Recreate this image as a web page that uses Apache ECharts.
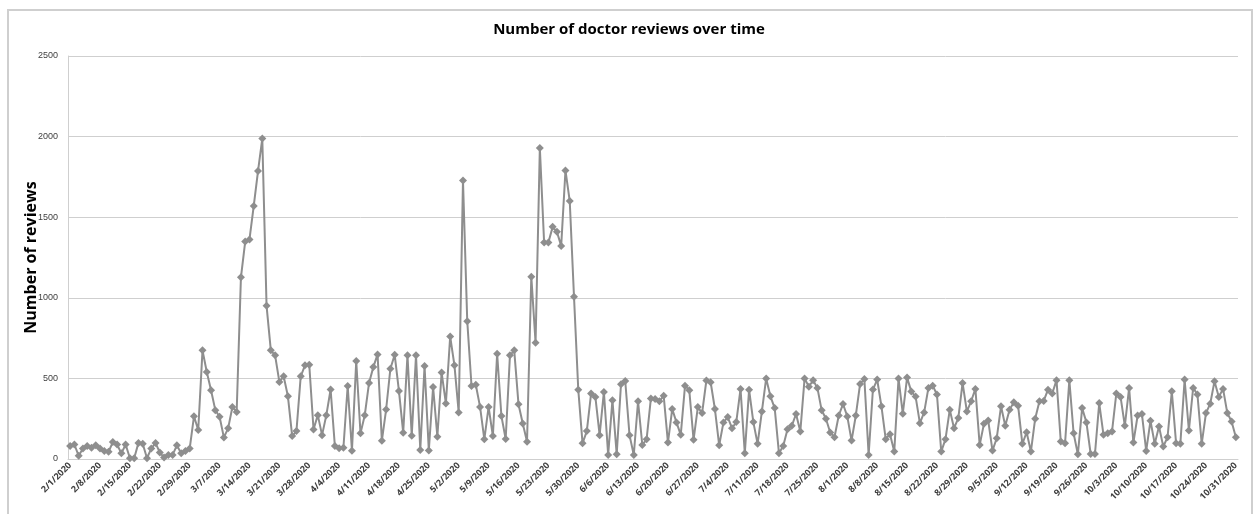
<!DOCTYPE html>
<html>
<head>
<meta charset="utf-8">
<script src="https://cdn.jsdelivr.net/npm/echarts@6/dist/echarts.min.js"></script>
<style>
  html, body { margin: 0; padding: 0; background: #ffffff; }
  #frame { position: absolute; left: 7px; top: 9px; width: 1246px; height: 520px;
           border: 2px solid #cfcfcf; box-sizing: border-box; }
  #chart { position: absolute; left: 0; top: 0; width: 1258px; height: 514px; }
</style>
</head>
<body>
<div id="frame"></div>
<div id="chart"></div>
<script>
// Daily review counts, 2/1/2020 through 10/31/2020
const startDate = [2020, 2, 1];
const dayCount = 274;

const febReviews = [80, 90, 20, 65, 80, 70, 85, 65, 50, 45, 105, 90, 35, 90, 5, 5, 100, 95, 5, 65, 100, 40, 10, 25, 25, 85, 35, 50, 65];
const marReviews = [265, 180, 674, 540, 426, 303, 262, 134, 190, 323, 292, 1127, 1349, 1362, 1570, 1786, 1988, 950, 674,
  643, 478, 513, 389, 142, 173, 513, 581, 585, 183, 272, 148];
const aprReviews = [272, 431, 80, 66, 70, 453, 51, 608, 159, 272, 472,
  570, 649, 113, 307, 560, 647, 422, 163, 643, 144, 643, 56, 577, 52, 447, 138, 536, 344, 760];
const mayReviews = [581, 288, 1727, 855, 453, 461, 323, 122, 323, 142, 653, 266, 124, 643, 674, 340, 220, 107, 1131, 721,
  1930, 1343, 1343, 1440, 1409, 1322, 1790, 1600, 1007, 430, 97];
const junReviews = [173, 406, 385, 148, 416, 25, 365, 29, 463, 484, 148, 25, 358, 87, 122, 375,
  372, 358, 393, 102, 310, 227, 150, 455, 426, 119, 322, 285, 487, 476];
const julReviews = [310, 85, 227, 260, 191, 229, 435, 35, 430,
  229, 94, 295, 500, 389, 316, 35, 81, 185, 206, 279, 170, 500, 448, 489, 441, 302, 250, 164, 135, 270, 341];
const augReviews = [264, 114, 270, 466, 497, 25, 431, 493, 327, 123, 154, 46, 499, 281, 505, 418, 387, 222, 289, 441, 455, 400, 46, 123, 306,
  191, 254, 472, 295, 358, 435];
const sepReviews = [87, 218, 239, 52, 129, 327, 206, 306, 352, 331, 94, 166, 46, 250, 358, 360, 430,
  406, 489, 108, 98, 489, 160, 29, 316, 227, 31, 31, 347, 150];
const octReviews = [160, 171, 406, 385, 206, 441, 102, 270, 279, 50, 237, 94, 202, 77, 135, 420, 98, 94, 493, 177, 441, 400, 94, 285, 343, 483, 385, 435, 285, 233, 135];

const reviews = [].concat(febReviews, marReviews, aprReviews, mayReviews, junReviews,
  julReviews, augReviews, sepReviews, octReviews);

const yTicks = [0, 500, 1000, 1500, 2000, 2500];

// Category labels in M/D/YYYY form
const dates = [];
for (let i = 0; i < dayCount; i++) {
  const d = new Date(startDate[0], startDate[1] - 1, startDate[2] + i);
  dates.push((d.getMonth() + 1) + '/' + d.getDate() + '/' + d.getFullYear());
}

const chart = echarts.init(document.getElementById('chart'));
chart.setOption({
  animation: false,
  title: {
    text: 'Number of doctor reviews over time',
    left: 'center',
    top: 17,
    textStyle: { fontFamily: 'Open Sans', fontWeight: 'bold', fontSize: 15, color: '#000000' }
  },
  grid: { left: 68, right: 20, top: 56, bottom: 55 },
  xAxis: {
    type: 'category',
    data: dates,
    boundaryGap: true,
    axisLine: { lineStyle: { color: '#cfcfcf', width: 1 } },
    axisTick: { show: false },
    axisLabel: {
      interval: 6,
      rotate: 45,
      margin: 5,
      fontFamily: 'Open Sans',
      fontWeight: 'bold',
      fontSize: 9,
      color: '#404040'
    }
  },
  yAxis: {
    type: 'value',
    min: yTicks[0],
    max: yTicks[yTicks.length - 1],
    interval: 500,
    name: 'Number of reviews',
    nameLocation: 'middle',
    nameGap: 29,
    nameMoveOverlap: false,
    nameTextStyle: { fontFamily: 'Open Sans', fontWeight: 'bold', fontSize: 16, color: '#000000' },
    axisLine: { show: true, lineStyle: { color: '#cfcfcf' } },
    axisTick: { show: false },
    splitLine: { lineStyle: { color: '#cfcfcf', width: 1 } },
    axisLabel: {
      fontFamily: 'Liberation Sans', fontSize: 9, color: '#404040', margin: 10,
      formatter: function (v) { return String(v); }
    }
  },
  series: [{
    type: 'line',
    data: reviews,
    symbol: 'diamond',
    symbolSize: 8,
    showAllSymbol: true,
    lineStyle: { color: '#8e8e8e', width: 2 },
    itemStyle: { color: '#8e8e8e' }
  }]
});
</script>
</body>
</html>
